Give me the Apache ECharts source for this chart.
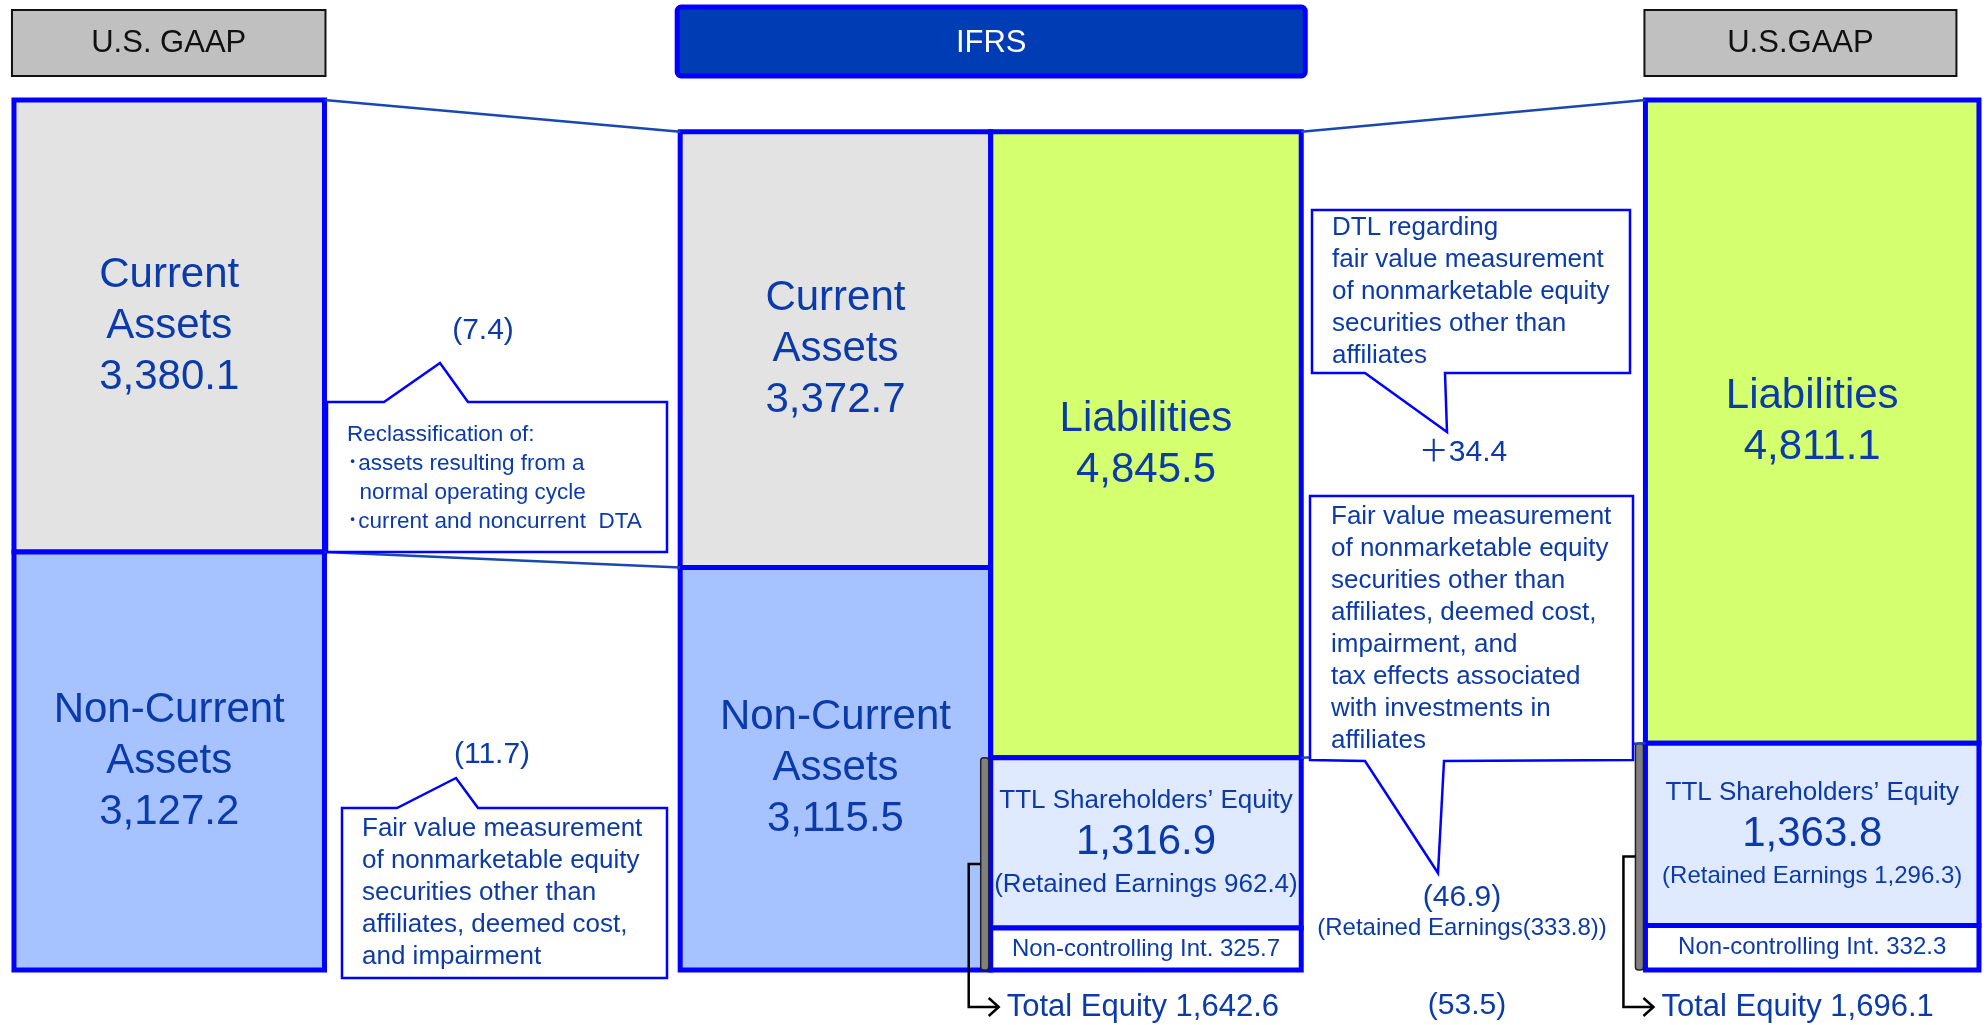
<!DOCTYPE html>
<html>
<head>
<meta charset="utf-8">
<title>U.S. GAAP / IFRS balance sheet</title>
<script src="https://cdn.jsdelivr.net/npm/echarts@6/dist/echarts.min.js"></script>
<style>
  html, body { margin: 0; padding: 0; background: #fff; }
  #main { width: 1988px; height: 1025px; }
</style>
</head>
<body>
<div id="main"></div>
<script>
var headers = ['U.S. GAAP', 'IFRS', 'U.S.GAAP'];

var assetNames = ['Current Assets', 'Non-Current Assets'];
var gaapAssets = [3380.1, 3127.2];
var ifrsAssets = [3372.7, 3115.5];

var claimNames = ['Liabilities', 'TTL Shareholders\u2019 Equity', 'Non-controlling Int.'];
var ifrsClaims = [4845.5, 1316.9, 325.7];
var gaapClaims = [4811.1, 1363.8, 332.3];

var retainedEarnings = [962.4, 1296.3]; // IFRS, U.S.GAAP
var totalEquity = [1642.6, 1696.1];     // IFRS, U.S.GAAP

// differences shown between the columns
var assetDiffs = [-7.4, -11.7];
var claimDiffs = [34.4, -46.9];
var retainedDiff = -333.8;
var totalEquityDiff = -53.5;

var BLUE = '#0000ff';
var TEXT = '#0b3baa';
var FONT = '"Liberation Sans", Arial, "Noto Sans CJK JP", sans-serif';

function fmt(v) {
  return Math.abs(v).toLocaleString('en-US', { minimumFractionDigits: 1, maximumFractionDigits: 1 });
}
function diff(v) {
  return v < 0 ? '(' + fmt(v) + ')' : '\uff0b' + fmt(v);
}
function sum(a) { return a.reduce(function (s, v) { return s + v; }, 0); }

// stack values from top to bottom, returns [lo, hi] per value
function stack(values) {
  var top = sum(values), out = [];
  values.forEach(function (v) { out.push([top - v, top]); top -= v; });
  return out;
}

// column x spans (axis units, column index at centre)
var spanGaapL = [-0.189, 0.189];
var spanIfrsA = [1 - 0.378, 1];
var spanIfrsC = [1, 1 + 0.378];
var spanGaapR = [2 - 0.203, 2 + 0.203];

function assetBlocks(values, span) {
  var fills = ['#e3e3e3', '#a6c3ff'];
  return stack(values).map(function (r, i) {
    return {
      x0: span[0], x1: span[1], lo: r[0], hi: r[1], fill: fills[i],
      text: assetNames[i].replace(' Assets', '\nAssets') + '\n' + fmt(values[i]),
      size: 42, lh: 51
    };
  });
}

function claimBlocks(values, span, retained, retSize) {
  var fills = ['#d4ff6e', '#dfe9ff', '#ffffff'];
  var r = stack(values);
  return [
    { x0: span[0], x1: span[1], lo: r[0][0], hi: r[0][1], fill: fills[0],
      text: claimNames[0] + '\n' + fmt(values[0]), size: 42, lh: 51 },
    { x0: span[0], x1: span[1], lo: r[1][0], hi: r[1][1], fill: fills[1],
      text: '{t|' + claimNames[1] + '}\n{v|' + fmt(values[1]) + '}\n{r|(Retained Earnings ' + fmt(retained) + ')}',
      size: 26, lh: 42,
      rich: {
        t: { fontSize: 26, lineHeight: 42, fill: TEXT, fontFamily: FONT },
        v: { fontSize: 42, lineHeight: 42, fill: TEXT, fontFamily: FONT },
        r: { fontSize: retSize, lineHeight: 42, fill: TEXT, fontFamily: FONT }
      } },
    { x0: span[0], x1: span[1], lo: r[2][0], hi: r[2][1], fill: fills[2],
      text: claimNames[2] + ' ' + fmt(values[2]), size: 24, lh: 30 }
  ];
}

var gaapBlocks = assetBlocks(gaapAssets, spanGaapL).concat(claimBlocks(gaapClaims, spanGaapR, retainedEarnings[1], 24));
var ifrsBlocks = assetBlocks(ifrsAssets, spanIfrsA).concat(claimBlocks(ifrsClaims, spanIfrsC, retainedEarnings[0], 26));

function blockRenderer(blocks) {
  return function (params, api) {
    var b = blocks[params.dataIndex];
    var tl = api.coord([api.value(0), api.value(3)]);
    var br = api.coord([api.value(1), api.value(2)]);
    return {
      type: 'group',
      children: [
        { type: 'rect', shape: { x: tl[0], y: tl[1], width: br[0] - tl[0], height: br[1] - tl[1] },
          style: { fill: b.fill, stroke: BLUE, lineWidth: 5 } },
        { type: 'text', x: (tl[0] + br[0]) / 2, y: (tl[1] + br[1]) / 2,
          style: { text: b.text, rich: b.rich, fill: TEXT, fontSize: b.size, lineHeight: b.lh,
                   fontFamily: FONT, align: 'center', verticalAlign: 'middle' } }
      ]
    };
  };
}

// grey bar next to equity + bracket to the total equity label
function equityRenderer(value) {
  return function (params, api) {
    var top = api.coord([api.value(0), api.value(2)]);
    var bot = api.coord([api.value(0), api.value(1)]);
    var ex = top[0];
    var bx = ex - 10;
    var mid = (top[1] + bot[1]) / 2;
    var ly = bot[1] + 37;
    return {
      type: 'group',
      children: [
        { type: 'rect', shape: { x: bx, y: top[1], width: 8, height: bot[1] - top[1], r: 3 },
          style: { fill: '#808080', stroke: '#222', lineWidth: 1.5 } },
        { type: 'polyline', shape: { points: [[bx, mid], [bx - 12, mid], [bx - 12, ly], [ex + 8, ly]] },
          style: { stroke: '#000', lineWidth: 2.5, fill: null } },
        { type: 'polyline', shape: { points: [[ex - 2, ly - 9], [ex + 8, ly], [ex - 2, ly + 9]] },
          style: { stroke: '#000', lineWidth: 2.5, fill: null } },
        { type: 'text', x: ex + 16, y: ly,
          style: { text: 'Total Equity ' + fmt(value), fill: TEXT, fontSize: 31, fontFamily: FONT,
                   align: 'left', verticalAlign: 'middle' } }
      ]
    };
  };
}

var gaapTotal = Math.max(sum(gaapAssets), sum(gaapClaims));
var ifrsTotal = sum(ifrsAssets);

var option = {
  animation: false,
  grid: { left: 0, right: 0, top: 100, bottom: 55 },
  xAxis: { type: 'value', min: -0.206, max: 2.214, show: false },
  yAxis: [
    { type: 'value', min: 0, max: gaapTotal, show: false },
    // IFRS column drawn a little shorter than the U.S. GAAP ones
    { type: 'value', min: 0, max: ifrsTotal * 1.038, show: false }
  ],
  series: [
    { type: 'custom', yAxisIndex: 0, clip: false, renderItem: blockRenderer(gaapBlocks),
      data: gaapBlocks.map(function (b) { return [b.x0, b.x1, b.lo, b.hi]; }) },
    { type: 'custom', yAxisIndex: 1, clip: false, renderItem: blockRenderer(ifrsBlocks),
      data: ifrsBlocks.map(function (b) { return [b.x0, b.x1, b.lo, b.hi]; }) },
    { type: 'custom', yAxisIndex: 1, clip: false, renderItem: equityRenderer(totalEquity[0]),
      data: [[spanIfrsC[0], 0, totalEquity[0]]] },
    { type: 'custom', yAxisIndex: 0, clip: false, renderItem: equityRenderer(totalEquity[1]),
      data: [[spanGaapR[0], 0, totalEquity[1]]] }
  ]
};

var chart = echarts.init(document.getElementById('main'));
chart.setOption(option);

function px(seriesIndex, x, y) {
  return chart.convertToPixel({ seriesIndex: seriesIndex }, [x, y]);
}

function label(text, x, y, size) {
  return { type: 'text', x: x, y: y, z: 12,
    style: { text: text, fill: TEXT, fontSize: size, fontFamily: FONT,
             align: 'center', verticalAlign: 'middle', textAlign: 'center', textVerticalAlign: 'middle' } };
}

function callout(points, lines, tx, ty, size, lh) {
  return [
    { type: 'polygon', z: 10, shape: { points: points },
      style: { fill: '#fff', stroke: BLUE, lineWidth: 2.5 } },
    { type: 'text', x: tx, y: ty, z: 11,
      style: { text: lines.join('\n'), fill: TEXT, fontSize: size, lineHeight: lh, fontFamily: FONT,
               align: 'left', verticalAlign: 'top', textAlign: 'left', textVerticalAlign: 'top' } }
  ];
}

function connector(a, b) {
  return { type: 'line', z: 5, shape: { x1: a[0], y1: a[1], x2: b[0], y2: b[1] },
    style: { stroke: '#1848b0', lineWidth: 2.5 } };
}

function header(text, x0, x1, dark) {
  return [
    { type: 'rect', z: 5, shape: { x: x0, y: dark ? 7 : 10, width: x1 - x0, height: dark ? 69 : 66, r: dark ? 4 : 0 },
      style: dark ? { fill: '#003cb4', stroke: BLUE, lineWidth: 5 } : { fill: '#c0c0c0', stroke: '#111', lineWidth: 2 } },
    { type: 'text', z: 6, x: (x0 + x1) / 2, y: 43,
      style: { text: text, fill: dark ? '#fff' : '#111', fontSize: 31, fontFamily: FONT,
               align: 'center', verticalAlign: 'middle', textAlign: 'center', textVerticalAlign: 'middle' } }
  ];
}

var gL0 = px(0, spanGaapL[0], 0)[0], gL1 = px(0, spanGaapL[1], 0)[0];
var iA0 = px(1, spanIfrsA[0], 0)[0], iC1 = px(1, spanIfrsC[1], 0)[0];
var gR0 = px(0, spanGaapR[0], 0)[0];

var elements = [].concat(
  header(headers[0], gL0 - 2, gL1 + 1, false),
  header(headers[1], iA0 - 3, iC1 + 4, true),
  header(headers[2], gR0 - 1, gR0 + 311, false),
  [
    connector(px(0, spanGaapL[1], gaapTotal), px(1, spanIfrsA[0], ifrsTotal)),
    connector(px(0, spanGaapL[1], gaapAssets[1]), px(1, spanIfrsA[0], ifrsAssets[1])),
    connector(px(1, spanIfrsC[1], ifrsTotal), px(0, spanGaapR[0], sum(gaapClaims))),
    connector(px(1, spanIfrsC[1], ifrsClaims[1] + ifrsClaims[2]), px(0, spanGaapR[0], gaapClaims[1] + gaapClaims[2]))
  ],
  callout([[327, 402], [384, 402], [440, 363], [468, 402], [667, 402], [667, 552], [327, 552]],
    ['Reclassification of:', '\uff65assets resulting from a', '  normal operating cycle', '\uff65current and noncurrent  DTA'],
    347, 420, 22.5, 29),
  callout([[342, 808], [397, 808], [456, 778], [478, 808], [667, 808], [667, 978], [342, 978]],
    ['Fair value measurement', 'of nonmarketable equity', 'securities other than', 'affiliates, deemed cost,', 'and impairment'],
    362, 813, 26, 32),
  callout([[1312, 210], [1630, 210], [1630, 373], [1445, 373], [1447, 432], [1365, 373], [1312, 373]],
    ['DTL regarding', 'fair value measurement', 'of nonmarketable equity', 'securities other than', 'affiliates'],
    1332, 212, 26, 32),
  callout([[1310, 496], [1633, 496], [1633, 760], [1444, 761], [1438, 873], [1365, 761], [1310, 760]],
    ['Fair value measurement', 'of nonmarketable equity', 'securities other than', 'affiliates, deemed cost,',
     'impairment, and', 'tax effects associated', 'with investments in', 'affiliates'],
    1331, 501, 26, 32),
  [
    label(diff(assetDiffs[0]), 483, 331, 30),
    label(diff(assetDiffs[1]), 492, 755, 30),
    label(diff(claimDiffs[0]), 1463, 453, 30),
    label(diff(claimDiffs[1]), 1462, 898, 30),
    label('(Retained Earnings' + diff(retainedDiff) + ')', 1462, 928, 24),
    label(diff(totalEquityDiff), 1467, 1006, 30)
  ]
);

chart.setOption({ graphic: { elements: elements } });
</script>
</body>
</html>
